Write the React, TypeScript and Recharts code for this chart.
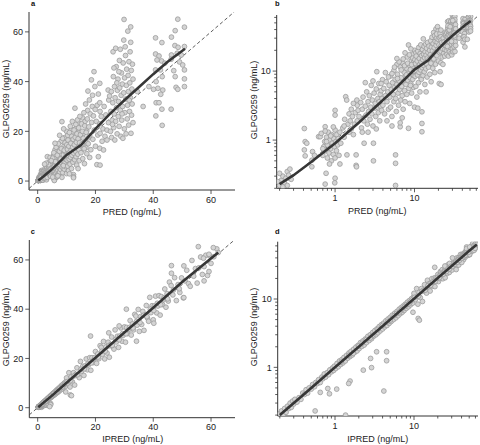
import { ReferenceLine, Scatter, ScatterChart, XAxis, YAxis } from 'recharts'

const FONT = '"Liberation Sans", Arial, Helvetica, sans-serif'

// population prediction vs observed GLPG0259 (panels a and b)
const predObs: [number, number][] = [
  [0.2, 0.22], [0.21, 0.26], [0.22, 0.3], [0.2, 0.33], [0.23, 0.24], [0.24, 0.28], [0.25, 0.22], [0.25, 0.35],
  [0.26, 0.31], [0.27, 0.38], [0.22, 0.21], [0.28, 0.27], [0.19, 0.25],
  [0.41, 1.47], [0.42, 0.95], [0.41, 0.72], [0.42, 0.59], [0.52, 0.68], [0.51, 0.51], [0.51, 0.41], [0.44, 0.9],
  [0.55, 0.6], [0.62, 1.12],
  [0.75, 1.56], [1.0, 2.7], [1.0, 2.3], [0.77, 0.33], [0.75, 0.23], [1.0, 0.28], [0.99, 0.24], [0.65, 1.12],
  [0.67, 1.25], [0.7, 0.6], [0.72, 0.8], [0.74, 0.95], [0.76, 0.7], [0.78, 1.1], [0.8, 0.55], [0.8, 0.85],
  [0.82, 1.3], [0.84, 0.65], [0.86, 1.0], [0.88, 0.75], [0.9, 0.5], [0.9, 1.2], [0.92, 0.9], [0.95, 0.62],
  [0.96, 1.05], [0.98, 0.8], [1.0, 0.55], [1.0, 1.4], [1.02, 0.95], [1.04, 0.7], [1.05, 1.2], [1.08, 0.85],
  [1.1, 1.05], [1.12, 0.6], [0.75, 1.35], [0.7, 0.75], [0.95, 1.55], [1.15, 1.3], [1.15, 0.45], [0.85, 0.45],
  [0.78, 0.95], [0.88, 1.15], [1.18, 0.9],
  [1.25, 1.5], [1.3, 1.1], [1.32, 2.0], [1.36, 4.25], [1.4, 3.8], [1.41, 0.61], [1.45, 1.7], [1.5, 2.4],
  [1.5, 1.3], [1.55, 1.9], [1.6, 1.45], [1.6, 2.8], [1.65, 2.2], [1.7, 1.2], [1.75, 1.7], [1.8, 2.5],
  [1.84, 0.61], [1.84, 0.43], [1.86, 0.41], [1.88, 3.8], [1.9, 3.2], [1.9, 1.9], [1.95, 2.7], [1.3, 1.6], [1.7, 3.4],
  [2.0, 2.2], [2.1, 3.5], [2.15, 1.5], [2.2, 2.8], [2.25, 4.2], [2.3, 1.9], [2.32, 0.9], [2.4, 3.1],
  [2.45, 2.3], [2.5, 5.0], [2.55, 1.7], [2.6, 3.6], [2.65, 2.6], [2.7, 4.4], [2.75, 2.0], [2.8, 3.0],
  [2.85, 6.2], [2.9, 2.4], [2.95, 3.8], [3.0, 1.6], [3.04, 0.9], [3.04, 0.5], [3.1, 4.8], [3.15, 2.9],
  [3.2, 3.4], [3.25, 2.2], [3.3, 5.5], [3.35, 9.8], [3.4, 3.0], [3.45, 4.0], [3.5, 2.5], [3.55, 6.6],
  [3.6, 3.6], [3.65, 1.9], [3.7, 4.6], [3.75, 3.1], [3.8, 5.2], [3.85, 2.7], [3.9, 4.0], [3.95, 7.5],
  [2.2, 1.3], [2.6, 1.3], [3.3, 1.45],
  [4.0, 3.2], [4.1, 5.6], [4.2, 2.4], [4.3, 4.4], [4.4, 7.0], [4.5, 3.6], [4.6, 5.0], [4.7, 2.8],
  [4.8, 6.2], [4.9, 4.2], [5.0, 8.5], [5.0, 3.0], [5.1, 5.4], [5.2, 2.2], [5.3, 6.8], [5.4, 4.6],
  [5.5, 10.2], [5.5, 3.6], [5.6, 5.8], [5.7, 7.6], [5.8, 4.0], [5.9, 2.6], [6.0, 6.4], [6.1, 9.0],
  [6.2, 4.8], [6.3, 3.2], [6.4, 7.2], [6.5, 5.4], [6.6, 11.5], [6.7, 3.8], [6.8, 8.0], [6.9, 6.0],
  [7.0, 4.4], [7.1, 13.0], [7.2, 2.8], [7.3, 7.0], [7.4, 9.6], [7.5, 5.2], [7.6, 3.6], [7.7, 8.4],
  [7.8, 6.4], [7.9, 11.0], [8.0, 4.6], [8.1, 16.0], [8.2, 7.4], [8.3, 9.2], [8.4, 23.9], [8.5, 5.6],
  [8.6, 12.2], [8.7, 3.4], [8.8, 8.0], [8.9, 10.5], [9.0, 6.6], [9.1, 14.0], [9.2, 4.8], [9.3, 9.0],
  [9.4, 17.5], [9.5, 7.6], [9.6, 11.8], [9.7, 5.8], [9.8, 13.5], [9.9, 8.6], [10.0, 20.0], [10.0, 3.0],
  [5.77, 0.61], [5.77, 0.46], [5.77, 0.22], [6.6, 1.56], [6.6, 1.78], [8.4, 1.48], [4.5, 1.9], [5.2, 1.6],
  [7.0, 2.1], [4.3, 9.5], [6.0, 12.5],
  [5.2, 9.2], [5.6, 11.4], [6.1, 7.8], [6.4, 13.6], [6.8, 10.4], [7.2, 15.0], [7.5, 12.0], [7.9, 8.8],
  [8.2, 13.0], [8.6, 17.2], [8.9, 6.2], [9.2, 12.4], [9.5, 15.4], [9.8, 10.0], [6.0, 15.2], [7.6, 18.4],
  [9.0, 21.0], [4.7, 8.2], [3.8, 6.6], [3.0, 7.2], [2.4, 6.8],
  [10.1, 14.6], [10.4, 18.4], [10.7, 11.8], [11.0, 16.2], [11.3, 13.4], [11.6, 20.6], [11.9, 8.2], [12.2, 15.0],
  [12.5, 18.2], [12.8, 12.6], [13.1, 21.0], [13.4, 16.4], [13.7, 11.4], [14.0, 19.6], [14.3, 23.4], [14.6, 14.0],
  [14.9, 17.6], [15.2, 12.6], [15.5, 25.4], [15.8, 19.0], [16.1, 15.6], [16.4, 24.0], [16.7, 13.4], [17.0, 20.2],
  [17.3, 28.4], [17.6, 17.4],
  [10.2, 8.4], [10.3, 12.8], [10.4, 6.0], [10.5, 16.5], [10.6, 10.2], [10.7, 4.2], [10.8, 14.0], [10.9, 8.8],
  [11.0, 19.5], [11.1, 11.6], [11.2, 6.8], [11.3, 22.0], [11.4, 9.6], [11.5, 15.2], [11.6, 12.4], [11.7, 5.0],
  [11.8, 18.0], [11.9, 10.4], [12.0, 24.0], [12.1, 13.6], [12.2, 7.6], [12.3, 16.8], [12.4, 2.57], [12.4, 1.74],
  [12.4, 1.32], [12.5, 11.2], [12.6, 20.5], [12.7, 14.6], [12.8, 8.6], [12.9, 29.3], [13.0, 17.6], [13.1, 12.0],
  [13.2, 22.8], [13.3, 9.8], [13.4, 15.6], [13.5, 6.4], [13.6, 19.0], [13.7, 13.2], [13.8, 24.6], [13.9, 10.8],
  [14.0, 17.0], [14.2, 21.4], [14.3, 12.6], [14.4, 8.2], [14.5, 15.4], [14.6, 26.0], [14.8, 18.6], [15.0, 11.4],
  [15.2, 23.0], [15.3, 14.8], [15.5, 20.0], [15.6, 9.0], [15.8, 17.2], [16.0, 27.5], [16.1, 13.0], [16.3, 22.2],
  [16.5, 16.0], [16.6, 31.0], [16.8, 19.6], [17.0, 11.0], [17.2, 25.0], [17.4, 36.2], [17.5, 15.0], [17.7, 21.8],
  [17.9, 32.6], [18.0, 18.2], [18.2, 27.0], [18.4, 12.6], [18.6, 40.7], [18.7, 23.6], [18.9, 30.0], [19.1, 16.8],
  [19.3, 26.2], [19.5, 44.0], [19.6, 20.5], [19.8, 38.0], [19.9, 28.8], [20.0, 14.0], [16.2, 7.0], [18.0, 9.5],
  [14.0, 5.0], [11.0, 2.9], [19.0, 34.5],
  [20.5, 6.6], [21.0, 9.8], [20.3, 24.0], [20.6, 30.5], [20.8, 18.5], [21.0, 35.0], [21.5, 31.5], [21.6, 28.0],
  [21.5, 23.0], [21.6, 19.2], [21.5, 13.2], [21.5, 39.3], [21.6, 6.4], [22.0, 26.0], [22.3, 16.0], [22.6, 21.0],
  [23.0, 30.0], [23.3, 18.0], [23.6, 26.6], [24.0, 20.5], [24.0, 16.5], [24.4, 36.6], [24.6, 32.6], [24.9, 34.2],
  [24.5, 23.5], [22.8, 12.5],
  [25.2, 20.0], [25.3, 28.0], [25.5, 36.0], [25.6, 17.5], [25.8, 24.5], [26.0, 31.5], [26.1, 52.0], [26.2, 42.0],
  [26.3, 21.5], [26.5, 27.0], [26.6, 38.0], [26.7, 16.5], [26.8, 33.5], [27.0, 53.4], [27.0, 24.0], [27.2, 46.0],
  [27.3, 29.5], [27.5, 19.0], [27.6, 36.5], [27.8, 41.0], [27.9, 26.0], [28.0, 32.0], [28.2, 22.0], [28.3, 48.5],
  [28.4, 37.5], [28.6, 53.0], [28.6, 28.5], [28.8, 18.0], [28.9, 34.5], [29.0, 43.5], [29.1, 24.5], [29.3, 39.0],
  [29.4, 30.0], [29.5, 17.2], [29.6, 47.5], [29.8, 56.7], [29.8, 35.5], [29.9, 65.0], [30.0, 21.0], [30.1, 41.5],
  [30.2, 27.5], [30.4, 50.5], [30.5, 33.0], [30.6, 19.0], [30.7, 38.5], [30.8, 45.0], [31.0, 25.0], [31.1, 30.5],
  [31.2, 60.3], [31.3, 42.5], [31.4, 36.0], [31.5, 22.5], [31.6, 48.0], [31.8, 28.0], [31.9, 39.5], [32.0, 52.0],
  [32.1, 33.5], [32.2, 62.0], [32.2, 55.8], [32.3, 19.2], [32.4, 44.5], [32.5, 26.5], [32.6, 37.0], [32.7, 31.0],
  [32.8, 47.0], [33.0, 23.5], [33.0, 41.0], [26.4, 45.5], [27.4, 39.5], [28.1, 44.0], [30.3, 54.0], [31.7, 32.5],
  [29.2, 27.0], [25.9, 22.8], [34.5, 36.0], [36.5, 30.0], [38.5, 38.0],
  [48.5, 65.1], [50.8, 61.9], [47.6, 60.5], [46.3, 57.9], [40.8, 57.6], [43.0, 55.7], [47.5, 54.5], [50.8, 54.1],
  [48.6, 53.8], [40.8, 51.1], [42.0, 50.3], [46.3, 50.7], [48.3, 51.4], [49.7, 50.7], [42.9, 48.3], [41.3, 48.7],
  [44.0, 47.4], [46.2, 49.0], [49.1, 47.9], [50.2, 46.7], [40.8, 44.7], [42.5, 44.7], [43.1, 42.0], [47.1, 44.4],
  [47.6, 42.0], [50.8, 44.7], [41.0, 40.0], [43.3, 36.6], [41.6, 37.3], [40.1, 36.9], [42.6, 34.9], [41.0, 31.5],
  [42.0, 31.5], [47.9, 37.7], [48.5, 36.9], [50.8, 41.1], [50.8, 38.0], [40.9, 26.2], [43.0, 28.9], [46.2, 28.9],
  [43.1, 22.4],
]
const predTrend: [number, number][] = [
  [0.2, 0.23], [0.3, 0.31], [0.5, 0.48], [1, 0.9], [2, 1.8], [3, 2.8], [5, 4.8], [7, 7], [10, 10.5],
  [15, 14.5], [20, 21], [25, 27], [30, 32.5], [35, 37.7], [40, 43], [45, 48], [51, 53.2],
]

// individual prediction vs observed GLPG0259 (panels c and d)
const ipredObs: [number, number][] = [
  [0.2, 0.21], [0.21, 0.23], [0.22, 0.2], [0.23, 0.25], [0.24, 0.22], [0.25, 0.27], [0.26, 0.25], [0.27, 0.3],
  [0.28, 0.26], [0.29, 0.32], [0.3, 0.29], [0.31, 0.34], [0.33, 0.31], [0.35, 0.36], [0.37, 0.34], [0.39, 0.42],
  [0.41, 0.4], [0.43, 0.47], [0.45, 0.42], [0.47, 0.5], [0.5, 0.48], [0.52, 0.56], [0.55, 0.52], [0.57, 0.6],
  [0.6, 0.58], [0.62, 0.66], [0.65, 0.6], [0.68, 0.72], [0.7, 0.68], [0.73, 0.8], [0.76, 0.72], [0.8, 0.84],
  [0.83, 0.78], [0.86, 0.92], [0.9, 0.86], [0.93, 0.98], [0.96, 0.9], [0.98, 1.04],
  [0.56, 0.23], [1.36, 0.2], [0.85, 0.41], [0.81, 0.49], [0.65, 0.43], [1.05, 0.48], [1.55, 0.63], [1.49, 0.58],
  [2.28, 0.91], [2.9, 0.99], [2.82, 1.35], [3.36, 1.69], [4.5, 1.69], [4.5, 1.25], [4.15, 0.45], [11.3, 5.2],
  [9.7, 6.4],
  [1.02, 0.96], [1.06, 1.14], [1.1, 1.02], [1.14, 1.24], [1.18, 1.1], [1.22, 1.3], [1.26, 1.16], [1.3, 1.4],
  [1.35, 1.24], [1.4, 1.5], [1.45, 1.36], [1.5, 1.62], [1.55, 1.44], [1.6, 1.72], [1.66, 1.52], [1.72, 1.84],
  [1.78, 1.66], [1.84, 1.98], [1.9, 1.74], [1.96, 2.1], [2.02, 1.88], [2.1, 2.3], [2.18, 2.02], [2.26, 2.44],
  [2.34, 2.12], [2.42, 2.6], [2.5, 2.3], [2.6, 2.84], [2.7, 2.46], [2.8, 3.0], [2.9, 2.62], [3.0, 3.24],
  [3.1, 2.86], [3.2, 3.46], [3.3, 3.0], [3.4, 3.66], [3.5, 3.2], [3.62, 3.94], [3.74, 3.42], [3.86, 4.2],
  [4.0, 3.64], [4.12, 4.44], [4.25, 3.9], [4.4, 4.8], [4.55, 4.1], [4.7, 5.1], [4.85, 4.4], [5.0, 5.4],
  [5.15, 4.7], [5.3, 5.8], [5.5, 5.0], [5.7, 6.2], [5.9, 5.3], [6.1, 6.6], [6.3, 5.7], [6.5, 7.1],
  [6.7, 6.1], [6.9, 7.5], [7.1, 6.4], [7.3, 7.9], [7.5, 6.8], [7.75, 8.4], [8.0, 7.3], [8.25, 9.0],
  [8.5, 7.7], [8.75, 9.5], [9.0, 8.2], [9.3, 10.1], [9.6, 8.7], [9.9, 10.8],
  [1.2, 1.2], [1.5, 1.5], [2.0, 2.05], [2.5, 2.55], [3.0, 2.95], [3.5, 3.6], [4.0, 4.1], [5.0, 4.9],
  [6.0, 6.1], [7.0, 7.0], [8.0, 8.2], [9.0, 9.1], [1.7, 1.6], [2.2, 2.25], [2.8, 2.7], [4.6, 4.6],
  [5.6, 5.7], [6.6, 6.5], [7.6, 7.7], [8.6, 8.5], [9.5, 9.7],
  [10.0, 12.1], [10.4, 9.8], [10.8, 14.2], [11.2, 8.4], [11.6, 12.5], [12.0, 10.5], [12.4, 14.2], [12.8, 9.2],
  [13.2, 13.5], [13.6, 16.2], [14.0, 12.9], [14.4, 12.2], [14.8, 18.8], [15.2, 14.8], [15.6, 16.8], [16.0, 13.1],
  [16.4, 17.0], [16.8, 19.8], [17.2, 15.4], [17.6, 17.4], [18.0, 20.3], [18.4, 15.2], [18.8, 20.3], [19.2, 18.3],
  [19.6, 19.8], [20.0, 22.8], [20.4, 18.0], [20.8, 21.8], [21.2, 19.9], [21.6, 25.2],
  [22.0, 24.5], [22.4, 21.7], [22.8, 26.9], [23.2, 19.8], [23.6, 24.7], [24.0, 22.2], [24.4, 26.6], [24.8, 20.5],
  [25.2, 25.6], [25.6, 28.7], [26.0, 24.7], [26.4, 23.8], [26.8, 31.6], [27.2, 26.7], [27.6, 29.0], [28.0, 24.5],
  [28.4, 29.1], [28.8, 32.4], [29.2, 27.0], [29.6, 29.4], [30.0, 32.8], [30.4, 26.6], [30.8, 32.6], [31.2, 30.1],
  [31.6, 31.8], [32.0, 35.4], [32.4, 29.5], [32.8, 34.0], [33.2, 31.6], [33.6, 37.9],
  [34.0, 37.2], [34.4, 33.5], [34.8, 39.9], [35.2, 31.0], [35.6, 37.0], [36.0, 33.8], [36.4, 39.1], [36.8, 31.4],
  [37.2, 37.6], [37.6, 41.5], [38.0, 36.4], [38.4, 35.1], [38.8, 44.8], [39.2, 38.6], [39.6, 41.4], [40.0, 35.7],
  [40.4, 41.3], [40.8, 45.3], [41.2, 38.5], [41.6, 41.3], [42.0, 45.5], [42.4, 37.6], [42.8, 45.1], [43.2, 41.9],
  [43.6, 43.9], [44.0, 48.2], [44.4, 40.8], [44.8, 46.3], [45.2, 43.3], [45.6, 51.0],
  [46.2, 49.6], [46.8, 45.8], [47.4, 52.8], [48.0, 43.5], [48.6, 50.0], [49.2, 46.8], [49.8, 52.7], [50.4, 44.6],
  [51.0, 51.5], [51.6, 55.8], [52.2, 50.4], [52.8, 49.3], [53.4, 59.8], [54.0, 53.4], [54.6, 56.5], [55.2, 50.6],
  [55.8, 56.8], [56.4, 61.2], [57.0, 54.1], [57.6, 57.3], [58.2, 61.9], [58.8, 53.7], [59.4, 61.8], [60.0, 58.6],
  [61.0, 61.3], [62.0, 64.5],
  [18.3, 29.1], [30.7, 40.0], [11.7, 4.9], [34.2, 27.0], [40.2, 34.3], [46.3, 57.7], [46.3, 54.6], [50.6, 57.6],
  [50.6, 44.7], [55.6, 65.4], [57.4, 60.7], [57.6, 51.5], [59.3, 62.3], [59.3, 55.3], [60.8, 65.0], [62.5, 63.0],
  [24.6, 30.4], [28.2, 33.2],
  [10.2, 10.6], [11.4, 11.0], [12.6, 12.9], [13.8, 13.4], [15.0, 15.6], [16.2, 15.8], [17.4, 17.9], [18.6, 18.2],
  [19.8, 20.4], [21.0, 20.6], [22.2, 22.9], [23.4, 23.0], [24.6, 25.1], [25.8, 25.3], [27.0, 27.7], [28.2, 27.6],
  [29.4, 30.1], [30.6, 30.0], [31.8, 32.6], [33.0, 32.4], [34.2, 35.0], [35.4, 34.6], [36.6, 37.5], [37.8, 37.0],
  [39.0, 40.0], [40.2, 39.5], [41.4, 42.4], [42.6, 41.8], [43.8, 44.7], [45.0, 44.2], [47.0, 47.8], [49.0, 48.3],
]
const ipredTrend: [number, number][] = [
  [0.2, 0.2], [0.5, 0.5], [1, 1], [2, 2], [5, 5], [10, 10.1], [20, 20.3], [30, 30.5], [40, 40.6], [50, 51], [62.5, 63],
]

const linearTicks = [0, 20, 40, 60]
const logTicks = [
  0.2, 0.3, 0.4, 0.5, 0.6, 0.7, 0.8, 0.9, 1, 2, 3, 4, 5, 6, 7, 8, 9, 10, 20, 30, 40, 50, 60,
]
const logTickLabels = [1, 10]

const toXY = (rows: [number, number][]) => rows.map(([x, y]) => ({ x, y }))

function BottomTick(props: any) {
  const { x, y, payload, labels } = props
  const major = labels.includes(payload.value)
  return (
    <g>
      <line x1={x} x2={x} y1={y} y2={y + (major ? 4 : 2.5)} stroke="#333" strokeWidth={0.8} />
      {major && (
        <text x={x} y={y + 12.5} textAnchor="middle" fontSize={9} fill="#222" fontFamily={FONT}>
          {payload.value}
        </text>
      )}
    </g>
  )
}

function LeftTick(props: any) {
  const { x, y, payload, labels } = props
  const major = labels.includes(payload.value)
  return (
    <g>
      <line x1={x} x2={x - (major ? 4 : 2.5)} y1={y} y2={y} stroke="#333" strokeWidth={0.8} />
      {major && (
        <text x={x - 6} y={y + 3.2} textAnchor="end" fontSize={9} fill="#222" fontFamily={FONT}>
          {payload.value}
        </text>
      )}
    </g>
  )
}

const Dot = (p: any) => (
  <circle cx={p.cx} cy={p.cy} r={2.4} fill="#d4d4d4" stroke="#9c9c9c" strokeWidth={0.8} />
)

interface PanelProps {
  rows: [number, number][]
  trend: [number, number][]
  log: boolean
  xDomain: [number, number]
  yDomain: [number, number]
  plot: { left: number; top: number; right: number; bottom: number }
  left: number
  top: number
  height: number
}

function Panel({ rows, trend, log, xDomain, yDomain, plot, left, top, height }: PanelProps) {
  const ticks = log ? logTicks : linearTicks
  const labels = log ? logTickLabels : linearTicks
  const lo = Math.max(xDomain[0], yDomain[0])
  const hi = Math.min(xDomain[1], yDomain[1])
  return (
    <div style={{ position: 'absolute', left, top }}>
      <ScatterChart
        width={240}
        height={height}
        margin={{ top: plot.top, right: plot.right, bottom: 0, left: 0 }}
      >
        <XAxis
          type="number"
          dataKey="x"
          scale={log ? 'log' : 'linear'}
          domain={xDomain}
          allowDataOverflow
          ticks={ticks}
          interval={0}
          height={plot.bottom}
          tickSize={0}
          tickMargin={0}
          tickLine={false}
          stroke="#333"
          tick={<BottomTick labels={labels} />}
        />
        <YAxis
          type="number"
          dataKey="y"
          scale={log ? 'log' : 'linear'}
          domain={yDomain}
          allowDataOverflow
          ticks={ticks}
          interval={0}
          width={plot.left}
          tickSize={0}
          tickMargin={0}
          tickLine={false}
          stroke="#333"
          tick={<LeftTick labels={labels} />}
        />
        <ReferenceLine
          segment={[{ x: lo, y: lo }, { x: hi, y: hi }]}
          stroke="#333"
          strokeWidth={0.8}
          strokeDasharray="3.5 2.5"
          ifOverflow="hidden"
        />
        <Scatter data={toXY(rows)} shape={Dot} isAnimationActive={false} />
        <Scatter
          data={toXY(trend)}
          line={{ stroke: '#363636', strokeWidth: 2.6 }}
          shape={() => <g />}
          isAnimationActive={false}
        />
      </ScatterChart>
    </div>
  )
}

const textBase: React.CSSProperties = {
  position: 'absolute',
  fontFamily: FONT,
  fontSize: 9,
  lineHeight: 1,
  color: '#222',
  whiteSpace: 'nowrap',
}

function XTitle({ text, cx, cy }: { text: string; cx: number; cy: number }) {
  return (
    <div style={{ ...textBase, left: cx, top: cy, transform: 'translate(-50%, -50%)' }}>{text}</div>
  )
}

function YTitle({ cx, cy }: { cx: number; cy: number }) {
  return (
    <div style={{ ...textBase, left: cx, top: cy, transform: 'translate(-50%, -50%) rotate(-90deg)' }}>
      GLPG0259 (ng/mL)
    </div>
  )
}

function Letter({ text, x, y }: { text: string; x: number; y: number }) {
  return (
    <div style={{ ...textBase, left: x, top: y, fontSize: 7.5, fontWeight: 'bold', color: '#111' }}>{text}</div>
  )
}

export default function App() {
  return (
    <div style={{ position: 'absolute', left: 0, top: 0, width: 480, height: 445, background: '#fff' }}>
      <Panel
        rows={predObs}
        trend={predTrend}
        log={false}
        xDomain={[-3, 68.3]}
        yDomain={[-3.6, 68]}
        plot={{ top: 12, right: 5, bottom: 32, left: 29 }}
        left={0}
        top={0}
        height={222}
      />
      <Panel
        rows={predObs}
        trend={predTrend}
        log
        xDomain={[0.184, 63]}
        yDomain={[0.2, 65]}
        plot={{ top: 15, right: 2, bottom: 33.7, left: 36.7 }}
        left={240}
        top={0}
        height={222}
      />
      <Panel
        rows={ipredObs}
        trend={ipredTrend}
        log={false}
        xDomain={[-2.9, 68.3]}
        yDomain={[-4.06, 68.1]}
        plot={{ top: 15, right: 5, bottom: 27.3, left: 29.3 }}
        left={0}
        top={225}
        height={220}
      />
      <Panel
        rows={ipredObs}
        trend={ipredTrend}
        log
        xDomain={[0.188, 64.6]}
        yDomain={[0.194, 69]}
        plot={{ top: 16.7, right: 2, bottom: 29, left: 37.7 }}
        left={240}
        top={225}
        height={220}
      />
      <XTitle text="PRED (ng/mL)" cx={132} cy={211.6} />
      <XTitle text="PRED (ng/mL)" cx={377.3} cy={211} />
      <XTitle text="IPRED (ng/mL)" cx={132.7} cy={439} />
      <XTitle text="IPRED (ng/mL)" cx={377.8} cy={438.5} />
      <YTitle cx={5.5} cy={99} />
      <YTitle cx={253.5} cy={100} />
      <YTitle cx={5.5} cy={327} />
      <YTitle cx={254} cy={327} />
      <Letter text="a" x={31} y={0} />
      <Letter text="b" x={275} y={0} />
      <Letter text="c" x={30.7} y={228} />
      <Letter text="d" x={275} y={228} />
    </div>
  )
}
